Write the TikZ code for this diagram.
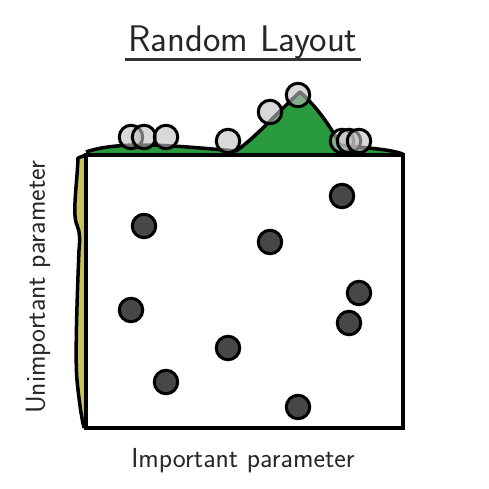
\documentclass[tikz,border=0pt]{standalone}
\definecolor{dgreen}{RGB}{42,154,62}
\definecolor{dyell}{RGB}{198,196,88}
\begin{document}
\begin{tikzpicture}[x=1pt,y=-1pt,
  pt/.style={circle,draw=black,fill=black!72,line width=3pt,minimum size=23.5pt,inner sep=0pt},
  mpt/.style={circle,draw=black,fill=black!25,fill opacity=0.6,line width=3pt,minimum size=23.5pt,inner sep=0pt},
  lbl/.style={font=\sffamily\fontsize{27.5}{30}\selectfont,text=black!85}]
\useasboundingbox (0,0) rectangle (488,489);
% top marginal density
\fill[dgreen] (86,152) .. controls (100,147) and (120,145) .. (140,145)
  .. controls (170,145) and (200,148) .. (236,151)
  .. controls (255,138) and (280,110) .. (300,92)
  .. controls (315,105) and (330,125) .. (340,145)
  .. controls (360,148) and (385,148) .. (403,154) -- (403,155) -- (86,155) -- cycle;
\draw[line width=3.5pt,line join=round] (86,152) .. controls (100,147) and (120,145) .. (140,145)
  .. controls (170,145) and (200,148) .. (236,151)
  .. controls (255,138) and (280,110) .. (300,92)
  .. controls (315,105) and (330,125) .. (340,145)
  .. controls (360,148) and (385,148) .. (403,154);
% left marginal density
\fill[dyell] (86,155) -- (78,158) .. controls (77,185) and (72,215) .. (77,225)
  .. controls (80,232) and (80,240) .. (79,250)
  .. controls (77,300) and (75,360) .. (77,380)
  .. controls (79,400) and (81,415) .. (84,428) -- (86,428) -- cycle;
\draw[line width=3.5pt,line join=round] (86,155) -- (78,158) .. controls (77,185) and (72,215) .. (77,225)
  .. controls (80,232) and (80,240) .. (79,250)
  .. controls (77,300) and (75,360) .. (77,380)
  .. controls (79,400) and (81,415) .. (84,428);
% box
\draw[line width=3.5pt,fill=white] (86,155) rectangle (403,428);
% points
\node[pt] (p1) at (144,226) {};
\node[pt] (p2) at (342,196) {};
\node[pt] (p3) at (270,242) {};
\node[pt] (p4) at (131,310) {};
\node[pt] (p5) at (359,293) {};
\node[pt] (p6) at (349,323) {};
\node[pt] (p7) at (228,348) {};
\node[pt] (p8) at (166,382) {};
\node[pt] (p9) at (298,407) {};
% marginal points
\node[mpt] (m4) at (131,137) {};
\node[mpt] (m1) at (144,137) {};
\node[mpt] (m8) at (166,137) {};
\node[mpt] (m7) at (228,141) {};
\node[mpt] (m3) at (270,112) {};
\node[mpt] (m9) at (298,95) {};
\node[mpt] (m2) at (342,141) {};
\node[mpt] (m6) at (349,141) {};
\node[mpt] (m5) at (359,141) {};
% labels
\node[font=\sffamily\fontsize{37}{40}\selectfont,text=black!85] (title) at (243,42) {Random Layout};
\draw[line width=3pt,black!80] ([yshift=3pt]title.south west) -- ([yshift=3pt]title.south east);
\node[lbl] (xl) at (243,461) {Important parameter};
\node[lbl,rotate=90] (yl) at (38,287) {Unimportant parameter};
\end{tikzpicture}
\end{document}
